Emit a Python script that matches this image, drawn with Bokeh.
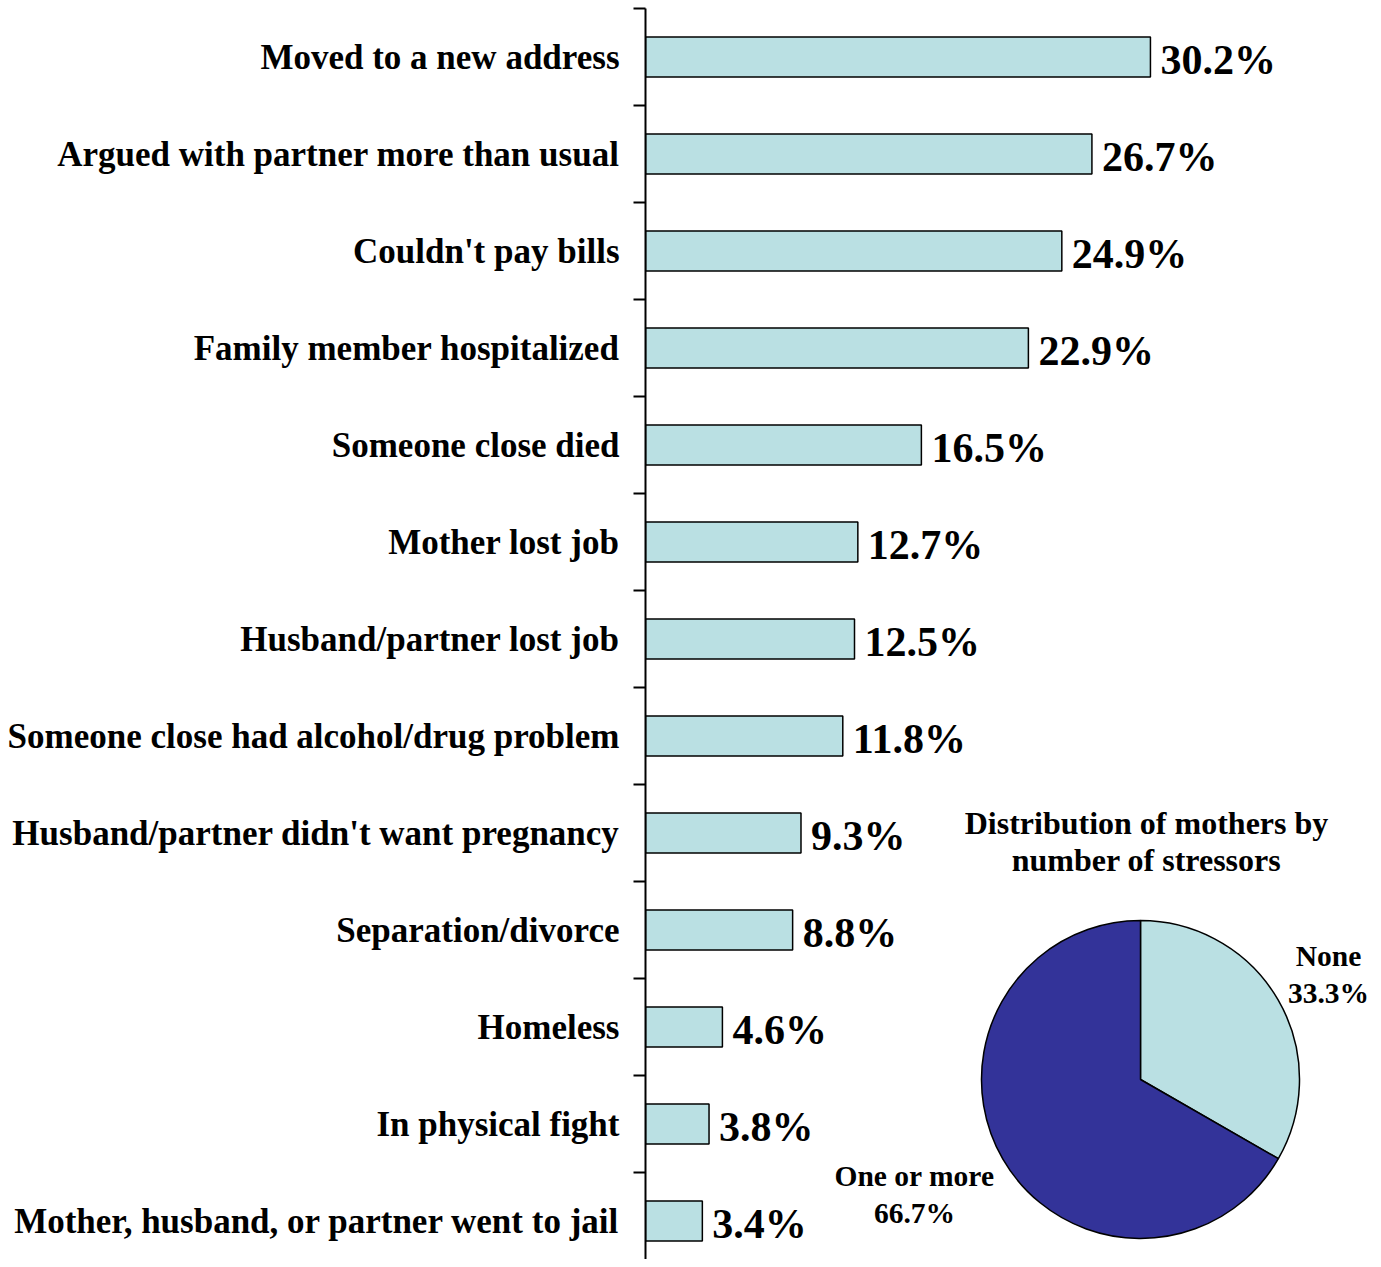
import numpy as np
from bokeh.plotting import figure
from bokeh.models import Range1d, FixedTicker, ColumnDataSource
from bokeh.core.properties import value
from bokeh.embed import file_html
from bokeh.resources import INLINE

# ---- data ----
categories = [
    "Moved to a new address",
    "Argued with partner more than usual",
    "Couldn't pay bills",
    "Family member hospitalized",
    "Someone close died",
    "Mother lost job",
    "Husband/partner lost job",
    "Someone close had alcohol/drug problem",
    "Husband/partner didn't want pregnancy",
    "Separation/divorce",
    "Homeless",
    "In physical fight",
    "Mother, husband, or partner went to jail",
]
percent = [30.2, 26.7, 24.9, 22.9, 16.5, 12.7, 12.5, 11.8, 9.3, 8.8, 4.6, 3.8, 3.4]

pie_labels = ["None", "One or more"]
pie_values = [33.3, 66.7]
pie_title = "Distribution of mothers by\nnumber of stressors"

# ---- styles ----
FONT = "Liberation Serif"
BAR_COLOR = "#BAE0E3"
PIE_COLORS = ["#BAE0E3", "#333399"]

LEFT = 645
FRAME_W = 728
FRAME_H = 1251
TOP = 8
ROW_PX = 97.0
PX_PER_PCT = 16.72

n = len(categories)
ypos = list(range(n))

p = figure(
    width=LEFT + FRAME_W, height=TOP + FRAME_H,
    output_backend="svg", toolbar_location=None,
    x_range=Range1d(0, FRAME_W / PX_PER_PCT),
    y_range=Range1d(-0.5 + FRAME_H / ROW_PX, -0.5),
    min_border_left=LEFT, min_border_right=0, min_border_top=TOP, min_border_bottom=0,
)
p.outline_line_color = None
p.grid.visible = False
p.xaxis.visible = False
p.background_fill_color = "white"
p.border_fill_color = "white"

yax = p.yaxis[0]
yax.ticker = FixedTicker(ticks=ypos, minor_ticks=[i - 0.5 for i in range(n + 1)])
yax.major_label_overrides = {i: c for i, c in zip(ypos, categories)}
yax.major_tick_line_color = None
yax.major_tick_out = 0
yax.major_tick_in = 0
yax.minor_tick_out = 12
yax.minor_tick_in = 0
yax.minor_tick_line_color = "black"
yax.minor_tick_line_width = 2
yax.axis_line_color = "black"
yax.axis_line_width = 2
yax.major_label_standoff = 14
yax.major_label_text_font = FONT
yax.major_label_text_font_style = "bold"
yax.major_label_text_font_size = "35px"
yax.major_label_text_color = "black"

src = ColumnDataSource(dict(y=ypos, v=percent, lab=[f"{v:.1f}%" for v in percent]))
p.hbar(y="y", left=0, right="v", height=0.41, source=src,
       fill_color=BAR_COLOR, line_color="black", line_width=1.5)
p.text(x="v", y="y", text="lab", source=src, x_offset=10, y_offset=3,
       text_font=value(FONT), text_font_style="bold", text_font_size="42px",
       text_align="left", text_baseline="alphabetic", text_color="black")

# ---- pie inset (pixel-like range relative to frame) ----
p.extra_x_ranges = {"pie": Range1d(0, FRAME_W)}
p.extra_y_ranges = {"pie": Range1d(FRAME_H, 0)}

cum = np.cumsum([0] + pie_values)
total = cum[-1]
# clockwise from 12 o'clock
ends = [np.pi / 2 - 2 * np.pi * cum[i] / total for i in range(len(pie_values))]
starts = [np.pi / 2 - 2 * np.pi * cum[i + 1] / total for i in range(len(pie_values))]
pie_src = ColumnDataSource(dict(x=[495, 495], y=[1071, 1071], s=starts, e=ends, c=PIE_COLORS))
p.wedge(x="x", y="y", radius=159, radius_units="screen", start_angle="s", end_angle="e",
        fill_color="c", line_color="black", line_width=1.5, source=pie_src,
        x_range_name="pie", y_range_name="pie")

lab_src = ColumnDataSource(dict(
    x=[683, 269], y=[966, 1186],
    t=[f"{l}\n{v:.1f}%" for l, v in zip(pie_labels, pie_values)]))
p.text(x="x", y="y", text="t", source=lab_src, x_range_name="pie", y_range_name="pie",
       text_font=value(FONT), text_font_style="bold", text_font_size="29.5px",
       text_align="center", text_baseline="middle", text_line_height=1.15, text_color="black")

p.text(x=[501], y=[833], text=[pie_title], x_range_name="pie", y_range_name="pie",
       text_font=value(FONT), text_font_style="bold", text_font_size="32px",
       text_align="center", text_baseline="middle", text_line_height=1.05, text_color="black")

open("out.html", "w").write(file_html(p, INLINE))
